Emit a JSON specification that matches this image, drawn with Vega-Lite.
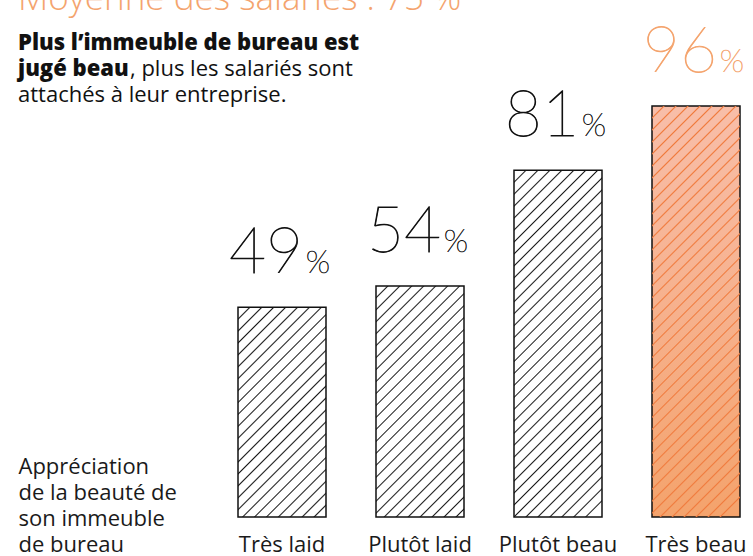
{
  "$schema": "https://vega.github.io/schema/vega-lite/v6.json",
  "width": 502,
  "height": 428,
  "autosize": {"type": "none"},
  "padding": {"left": 238, "top": 89, "right": 13, "bottom": 39},
  "background": "#ffffff",
  "config": {"view": {"stroke": null}},
  "data": {"values": [
    {"cat": "Très laid", "pct": 49},
    {"cat": "Plutôt laid", "pct": 54},
    {"cat": "Plutôt beau", "pct": 81},
    {"cat": "Très beau", "pct": 96}
  ]},
  "encoding": {
    "x": {
      "field": "cat", "type": "nominal",
      "sort": ["Très laid", "Plutôt laid", "Plutôt beau", "Très beau"],
      "scale": {"paddingInner": 0.3623, "paddingOuter": 0},
      "axis": {
        "labelAngle": 0, "ticks": false, "domain": false, "grid": false,
        "labelFont": "Open Sans", "labelFontSize": 22, "labelColor": "#1a1a1a",
        "labelBaseline": "alphabetic", "labelPadding": 34,
        "title": ["Appréciation", "de la beauté de", "son immeuble", "de bureau"],
        "titleX": -220, "titleY": -44, "titleAlign": "left", "titleAnchor": "start",
        "titleBaseline": "alphabetic", "titleFont": "Open Sans", "titleFontSize": 22,
        "titleFontWeight": "normal", "titleLineHeight": 26, "titleColor": "#1a1a1a"
      }
    },
    "y": {"field": "pct", "type": "quantitative", "scale": {"domain": [0, 100]}, "axis": null}
  },
  "layer": [
    {
      "transform": [{"filter": "datum.cat === 'Très laid'"}],
      "mark": {"type": "bar", "stroke": "#111111", "strokeWidth": 1.5, "fill": {
        "gradient": "linear", "x1": 0, "y1": 0, "x2": 0.5065, "y2": 1.2071,
        "stops": [
          {"offset": 0.035, "color": "#ffffff"}, {"offset": 0.04, "color": "#1a1a1a"}, {"offset": 0.045, "color": "#ffffff"},
          {"offset": 0.075, "color": "#ffffff"}, {"offset": 0.08, "color": "#1a1a1a"}, {"offset": 0.085, "color": "#ffffff"},
          {"offset": 0.115, "color": "#ffffff"}, {"offset": 0.12, "color": "#1a1a1a"}, {"offset": 0.125, "color": "#ffffff"},
          {"offset": 0.155, "color": "#ffffff"}, {"offset": 0.16, "color": "#1a1a1a"}, {"offset": 0.165, "color": "#ffffff"},
          {"offset": 0.195, "color": "#ffffff"}, {"offset": 0.2, "color": "#1a1a1a"}, {"offset": 0.205, "color": "#ffffff"},
          {"offset": 0.235, "color": "#ffffff"}, {"offset": 0.24, "color": "#1a1a1a"}, {"offset": 0.245, "color": "#ffffff"},
          {"offset": 0.275, "color": "#ffffff"}, {"offset": 0.28, "color": "#1a1a1a"}, {"offset": 0.285, "color": "#ffffff"},
          {"offset": 0.315, "color": "#ffffff"}, {"offset": 0.32, "color": "#1a1a1a"}, {"offset": 0.325, "color": "#ffffff"},
          {"offset": 0.355, "color": "#ffffff"}, {"offset": 0.36, "color": "#1a1a1a"}, {"offset": 0.365, "color": "#ffffff"},
          {"offset": 0.395, "color": "#ffffff"}, {"offset": 0.4, "color": "#1a1a1a"}, {"offset": 0.405, "color": "#ffffff"},
          {"offset": 0.435, "color": "#ffffff"}, {"offset": 0.44, "color": "#1a1a1a"}, {"offset": 0.445, "color": "#ffffff"},
          {"offset": 0.475, "color": "#ffffff"}, {"offset": 0.48, "color": "#1a1a1a"}, {"offset": 0.485, "color": "#ffffff"},
          {"offset": 0.515, "color": "#ffffff"}, {"offset": 0.52, "color": "#1a1a1a"}, {"offset": 0.525, "color": "#ffffff"},
          {"offset": 0.555, "color": "#ffffff"}, {"offset": 0.56, "color": "#1a1a1a"}, {"offset": 0.565, "color": "#ffffff"},
          {"offset": 0.595, "color": "#ffffff"}, {"offset": 0.6, "color": "#1a1a1a"}, {"offset": 0.605, "color": "#ffffff"},
          {"offset": 0.635, "color": "#ffffff"}, {"offset": 0.64, "color": "#1a1a1a"}, {"offset": 0.645, "color": "#ffffff"},
          {"offset": 0.675, "color": "#ffffff"}, {"offset": 0.68, "color": "#1a1a1a"}, {"offset": 0.685, "color": "#ffffff"},
          {"offset": 0.715, "color": "#ffffff"}, {"offset": 0.72, "color": "#1a1a1a"}, {"offset": 0.725, "color": "#ffffff"},
          {"offset": 0.755, "color": "#ffffff"}, {"offset": 0.76, "color": "#1a1a1a"}, {"offset": 0.765, "color": "#ffffff"},
          {"offset": 0.795, "color": "#ffffff"}, {"offset": 0.8, "color": "#1a1a1a"}, {"offset": 0.805, "color": "#ffffff"},
          {"offset": 0.835, "color": "#ffffff"}, {"offset": 0.84, "color": "#1a1a1a"}, {"offset": 0.845, "color": "#ffffff"},
          {"offset": 0.875, "color": "#ffffff"}, {"offset": 0.88, "color": "#1a1a1a"}, {"offset": 0.885, "color": "#ffffff"},
          {"offset": 0.915, "color": "#ffffff"}, {"offset": 0.92, "color": "#1a1a1a"}, {"offset": 0.925, "color": "#ffffff"},
          {"offset": 0.955, "color": "#ffffff"}, {"offset": 0.96, "color": "#1a1a1a"}, {"offset": 0.965, "color": "#ffffff"}
        ]
      }}
    },
    {
      "transform": [{"filter": "datum.cat === 'Plutôt laid'"}],
      "mark": {"type": "bar", "stroke": "#111111", "strokeWidth": 1.5, "fill": {
        "gradient": "linear", "x1": 0, "y1": 0, "x2": 0.4592, "y2": 1.2059,
        "stops": [
          {"offset": 0.033, "color": "#ffffff"}, {"offset": 0.0375, "color": "#1a1a1a"}, {"offset": 0.042, "color": "#ffffff"},
          {"offset": 0.0705, "color": "#ffffff"}, {"offset": 0.075, "color": "#1a1a1a"}, {"offset": 0.0795, "color": "#ffffff"},
          {"offset": 0.108, "color": "#ffffff"}, {"offset": 0.1125, "color": "#1a1a1a"}, {"offset": 0.117, "color": "#ffffff"},
          {"offset": 0.1455, "color": "#ffffff"}, {"offset": 0.15, "color": "#1a1a1a"}, {"offset": 0.1545, "color": "#ffffff"},
          {"offset": 0.183, "color": "#ffffff"}, {"offset": 0.1875, "color": "#1a1a1a"}, {"offset": 0.192, "color": "#ffffff"},
          {"offset": 0.2205, "color": "#ffffff"}, {"offset": 0.225, "color": "#1a1a1a"}, {"offset": 0.2295, "color": "#ffffff"},
          {"offset": 0.258, "color": "#ffffff"}, {"offset": 0.2625, "color": "#1a1a1a"}, {"offset": 0.267, "color": "#ffffff"},
          {"offset": 0.2955, "color": "#ffffff"}, {"offset": 0.3, "color": "#1a1a1a"}, {"offset": 0.3045, "color": "#ffffff"},
          {"offset": 0.333, "color": "#ffffff"}, {"offset": 0.3375, "color": "#1a1a1a"}, {"offset": 0.342, "color": "#ffffff"},
          {"offset": 0.3705, "color": "#ffffff"}, {"offset": 0.375, "color": "#1a1a1a"}, {"offset": 0.3795, "color": "#ffffff"},
          {"offset": 0.408, "color": "#ffffff"}, {"offset": 0.4125, "color": "#1a1a1a"}, {"offset": 0.417, "color": "#ffffff"},
          {"offset": 0.4455, "color": "#ffffff"}, {"offset": 0.45, "color": "#1a1a1a"}, {"offset": 0.4545, "color": "#ffffff"},
          {"offset": 0.483, "color": "#ffffff"}, {"offset": 0.4875, "color": "#1a1a1a"}, {"offset": 0.492, "color": "#ffffff"},
          {"offset": 0.5205, "color": "#ffffff"}, {"offset": 0.525, "color": "#1a1a1a"}, {"offset": 0.5295, "color": "#ffffff"},
          {"offset": 0.558, "color": "#ffffff"}, {"offset": 0.5625, "color": "#1a1a1a"}, {"offset": 0.567, "color": "#ffffff"},
          {"offset": 0.5955, "color": "#ffffff"}, {"offset": 0.6, "color": "#1a1a1a"}, {"offset": 0.6045, "color": "#ffffff"},
          {"offset": 0.633, "color": "#ffffff"}, {"offset": 0.6375, "color": "#1a1a1a"}, {"offset": 0.642, "color": "#ffffff"},
          {"offset": 0.6705, "color": "#ffffff"}, {"offset": 0.675, "color": "#1a1a1a"}, {"offset": 0.6795, "color": "#ffffff"},
          {"offset": 0.708, "color": "#ffffff"}, {"offset": 0.7125, "color": "#1a1a1a"}, {"offset": 0.717, "color": "#ffffff"},
          {"offset": 0.7455, "color": "#ffffff"}, {"offset": 0.75, "color": "#1a1a1a"}, {"offset": 0.7545, "color": "#ffffff"},
          {"offset": 0.783, "color": "#ffffff"}, {"offset": 0.7875, "color": "#1a1a1a"}, {"offset": 0.792, "color": "#ffffff"},
          {"offset": 0.8205, "color": "#ffffff"}, {"offset": 0.825, "color": "#1a1a1a"}, {"offset": 0.8295, "color": "#ffffff"},
          {"offset": 0.858, "color": "#ffffff"}, {"offset": 0.8625, "color": "#1a1a1a"}, {"offset": 0.867, "color": "#ffffff"},
          {"offset": 0.8955, "color": "#ffffff"}, {"offset": 0.9, "color": "#1a1a1a"}, {"offset": 0.9045, "color": "#ffffff"},
          {"offset": 0.933, "color": "#ffffff"}, {"offset": 0.9375, "color": "#1a1a1a"}, {"offset": 0.942, "color": "#ffffff"},
          {"offset": 0.9705, "color": "#ffffff"}, {"offset": 0.975, "color": "#1a1a1a"}, {"offset": 0.9795, "color": "#ffffff"}
        ]
      }}
    },
    {
      "transform": [{"filter": "datum.cat === 'Plutôt beau'"}],
      "mark": {"type": "bar", "stroke": "#111111", "strokeWidth": 1.5, "fill": {
        "gradient": "linear", "x1": 0, "y1": 0, "x2": 0.299, "y2": 1.1779,
        "stops": [
          {"offset": 0.0242, "color": "#ffffff"}, {"offset": 0.0275, "color": "#1a1a1a"}, {"offset": 0.0308, "color": "#ffffff"},
          {"offset": 0.0517, "color": "#ffffff"}, {"offset": 0.055, "color": "#1a1a1a"}, {"offset": 0.0583, "color": "#ffffff"},
          {"offset": 0.0792, "color": "#ffffff"}, {"offset": 0.0825, "color": "#1a1a1a"}, {"offset": 0.0858, "color": "#ffffff"},
          {"offset": 0.1067, "color": "#ffffff"}, {"offset": 0.11, "color": "#1a1a1a"}, {"offset": 0.1133, "color": "#ffffff"},
          {"offset": 0.1342, "color": "#ffffff"}, {"offset": 0.1375, "color": "#1a1a1a"}, {"offset": 0.1408, "color": "#ffffff"},
          {"offset": 0.1617, "color": "#ffffff"}, {"offset": 0.165, "color": "#1a1a1a"}, {"offset": 0.1683, "color": "#ffffff"},
          {"offset": 0.1892, "color": "#ffffff"}, {"offset": 0.1925, "color": "#1a1a1a"}, {"offset": 0.1958, "color": "#ffffff"},
          {"offset": 0.2167, "color": "#ffffff"}, {"offset": 0.22, "color": "#1a1a1a"}, {"offset": 0.2233, "color": "#ffffff"},
          {"offset": 0.2442, "color": "#ffffff"}, {"offset": 0.2475, "color": "#1a1a1a"}, {"offset": 0.2508, "color": "#ffffff"},
          {"offset": 0.2717, "color": "#ffffff"}, {"offset": 0.275, "color": "#1a1a1a"}, {"offset": 0.2783, "color": "#ffffff"},
          {"offset": 0.2992, "color": "#ffffff"}, {"offset": 0.3025, "color": "#1a1a1a"}, {"offset": 0.3058, "color": "#ffffff"},
          {"offset": 0.3267, "color": "#ffffff"}, {"offset": 0.33, "color": "#1a1a1a"}, {"offset": 0.3333, "color": "#ffffff"},
          {"offset": 0.3542, "color": "#ffffff"}, {"offset": 0.3575, "color": "#1a1a1a"}, {"offset": 0.3608, "color": "#ffffff"},
          {"offset": 0.3817, "color": "#ffffff"}, {"offset": 0.385, "color": "#1a1a1a"}, {"offset": 0.3883, "color": "#ffffff"},
          {"offset": 0.4092, "color": "#ffffff"}, {"offset": 0.4125, "color": "#1a1a1a"}, {"offset": 0.4158, "color": "#ffffff"},
          {"offset": 0.4367, "color": "#ffffff"}, {"offset": 0.44, "color": "#1a1a1a"}, {"offset": 0.4433, "color": "#ffffff"},
          {"offset": 0.4642, "color": "#ffffff"}, {"offset": 0.4675, "color": "#1a1a1a"}, {"offset": 0.4708, "color": "#ffffff"},
          {"offset": 0.4917, "color": "#ffffff"}, {"offset": 0.495, "color": "#1a1a1a"}, {"offset": 0.4983, "color": "#ffffff"},
          {"offset": 0.5192, "color": "#ffffff"}, {"offset": 0.5225, "color": "#1a1a1a"}, {"offset": 0.5258, "color": "#ffffff"},
          {"offset": 0.5467, "color": "#ffffff"}, {"offset": 0.55, "color": "#1a1a1a"}, {"offset": 0.5533, "color": "#ffffff"},
          {"offset": 0.5742, "color": "#ffffff"}, {"offset": 0.5775, "color": "#1a1a1a"}, {"offset": 0.5808, "color": "#ffffff"},
          {"offset": 0.6017, "color": "#ffffff"}, {"offset": 0.605, "color": "#1a1a1a"}, {"offset": 0.6083, "color": "#ffffff"},
          {"offset": 0.6292, "color": "#ffffff"}, {"offset": 0.6325, "color": "#1a1a1a"}, {"offset": 0.6358, "color": "#ffffff"},
          {"offset": 0.6567, "color": "#ffffff"}, {"offset": 0.66, "color": "#1a1a1a"}, {"offset": 0.6633, "color": "#ffffff"},
          {"offset": 0.6842, "color": "#ffffff"}, {"offset": 0.6875, "color": "#1a1a1a"}, {"offset": 0.6908, "color": "#ffffff"},
          {"offset": 0.7117, "color": "#ffffff"}, {"offset": 0.715, "color": "#1a1a1a"}, {"offset": 0.7183, "color": "#ffffff"},
          {"offset": 0.7392, "color": "#ffffff"}, {"offset": 0.7425, "color": "#1a1a1a"}, {"offset": 0.7458, "color": "#ffffff"},
          {"offset": 0.7667, "color": "#ffffff"}, {"offset": 0.77, "color": "#1a1a1a"}, {"offset": 0.7733, "color": "#ffffff"},
          {"offset": 0.7942, "color": "#ffffff"}, {"offset": 0.7975, "color": "#1a1a1a"}, {"offset": 0.8008, "color": "#ffffff"},
          {"offset": 0.8217, "color": "#ffffff"}, {"offset": 0.825, "color": "#1a1a1a"}, {"offset": 0.8283, "color": "#ffffff"},
          {"offset": 0.8492, "color": "#ffffff"}, {"offset": 0.8525, "color": "#1a1a1a"}, {"offset": 0.8558, "color": "#ffffff"},
          {"offset": 0.8767, "color": "#ffffff"}, {"offset": 0.88, "color": "#1a1a1a"}, {"offset": 0.8833, "color": "#ffffff"},
          {"offset": 0.9042, "color": "#ffffff"}, {"offset": 0.9075, "color": "#1a1a1a"}, {"offset": 0.9108, "color": "#ffffff"},
          {"offset": 0.9317, "color": "#ffffff"}, {"offset": 0.935, "color": "#1a1a1a"}, {"offset": 0.9383, "color": "#ffffff"},
          {"offset": 0.9592, "color": "#ffffff"}, {"offset": 0.9625, "color": "#1a1a1a"}, {"offset": 0.9658, "color": "#ffffff"}
        ]
      }}
    },
    {
      "transform": [{"filter": "datum.cat === 'Très beau'"}],
      "mark": {"type": "bar", "stroke": "#111111", "strokeWidth": 1.5, "fill": {
        "gradient": "linear", "x1": 0, "y1": 0, "x2": 0, "y2": 1,
        "stops": [
          {"offset": 0, "color": "#f8bea9"},
          {"offset": 0.5, "color": "#f6b18d"},
          {"offset": 1, "color": "#f4a36c"}
        ]
      }}
    },
    {
      "transform": [{"filter": "datum.cat === 'Très beau'"}],
      "mark": {"type": "bar", "strokeWidth": 0, "fill": {
        "gradient": "linear", "x1": 0, "y1": 0, "x2": 0.2486, "y2": 1.1609,
        "stops": [
          {"offset": 0.021, "color": "rgba(240,122,60,0)"}, {"offset": 0.024, "color": "#f07a3c"}, {"offset": 0.027, "color": "rgba(240,122,60,0)"},
          {"offset": 0.045, "color": "rgba(240,122,60,0)"}, {"offset": 0.048, "color": "#f07a3c"}, {"offset": 0.051, "color": "rgba(240,122,60,0)"},
          {"offset": 0.069, "color": "rgba(240,122,60,0)"}, {"offset": 0.072, "color": "#f07a3c"}, {"offset": 0.075, "color": "rgba(240,122,60,0)"},
          {"offset": 0.093, "color": "rgba(240,122,60,0)"}, {"offset": 0.096, "color": "#f07a3c"}, {"offset": 0.099, "color": "rgba(240,122,60,0)"},
          {"offset": 0.117, "color": "rgba(240,122,60,0)"}, {"offset": 0.12, "color": "#f07a3c"}, {"offset": 0.123, "color": "rgba(240,122,60,0)"},
          {"offset": 0.141, "color": "rgba(240,122,60,0)"}, {"offset": 0.144, "color": "#f07a3c"}, {"offset": 0.147, "color": "rgba(240,122,60,0)"},
          {"offset": 0.165, "color": "rgba(240,122,60,0)"}, {"offset": 0.168, "color": "#f07a3c"}, {"offset": 0.171, "color": "rgba(240,122,60,0)"},
          {"offset": 0.189, "color": "rgba(240,122,60,0)"}, {"offset": 0.192, "color": "#f07a3c"}, {"offset": 0.195, "color": "rgba(240,122,60,0)"},
          {"offset": 0.213, "color": "rgba(240,122,60,0)"}, {"offset": 0.216, "color": "#f07a3c"}, {"offset": 0.219, "color": "rgba(240,122,60,0)"},
          {"offset": 0.237, "color": "rgba(240,122,60,0)"}, {"offset": 0.24, "color": "#f07a3c"}, {"offset": 0.243, "color": "rgba(240,122,60,0)"},
          {"offset": 0.261, "color": "rgba(240,122,60,0)"}, {"offset": 0.264, "color": "#f07a3c"}, {"offset": 0.267, "color": "rgba(240,122,60,0)"},
          {"offset": 0.285, "color": "rgba(240,122,60,0)"}, {"offset": 0.288, "color": "#f07a3c"}, {"offset": 0.291, "color": "rgba(240,122,60,0)"},
          {"offset": 0.309, "color": "rgba(240,122,60,0)"}, {"offset": 0.312, "color": "#f07a3c"}, {"offset": 0.315, "color": "rgba(240,122,60,0)"},
          {"offset": 0.333, "color": "rgba(240,122,60,0)"}, {"offset": 0.336, "color": "#f07a3c"}, {"offset": 0.339, "color": "rgba(240,122,60,0)"},
          {"offset": 0.357, "color": "rgba(240,122,60,0)"}, {"offset": 0.36, "color": "#f07a3c"}, {"offset": 0.363, "color": "rgba(240,122,60,0)"},
          {"offset": 0.381, "color": "rgba(240,122,60,0)"}, {"offset": 0.384, "color": "#f07a3c"}, {"offset": 0.387, "color": "rgba(240,122,60,0)"},
          {"offset": 0.405, "color": "rgba(240,122,60,0)"}, {"offset": 0.408, "color": "#f07a3c"}, {"offset": 0.411, "color": "rgba(240,122,60,0)"},
          {"offset": 0.429, "color": "rgba(240,122,60,0)"}, {"offset": 0.432, "color": "#f07a3c"}, {"offset": 0.435, "color": "rgba(240,122,60,0)"},
          {"offset": 0.453, "color": "rgba(240,122,60,0)"}, {"offset": 0.456, "color": "#f07a3c"}, {"offset": 0.459, "color": "rgba(240,122,60,0)"},
          {"offset": 0.477, "color": "rgba(240,122,60,0)"}, {"offset": 0.48, "color": "#f07a3c"}, {"offset": 0.483, "color": "rgba(240,122,60,0)"},
          {"offset": 0.501, "color": "rgba(240,122,60,0)"}, {"offset": 0.504, "color": "#f07a3c"}, {"offset": 0.507, "color": "rgba(240,122,60,0)"},
          {"offset": 0.525, "color": "rgba(240,122,60,0)"}, {"offset": 0.528, "color": "#f07a3c"}, {"offset": 0.531, "color": "rgba(240,122,60,0)"},
          {"offset": 0.549, "color": "rgba(240,122,60,0)"}, {"offset": 0.552, "color": "#f07a3c"}, {"offset": 0.555, "color": "rgba(240,122,60,0)"},
          {"offset": 0.573, "color": "rgba(240,122,60,0)"}, {"offset": 0.576, "color": "#f07a3c"}, {"offset": 0.579, "color": "rgba(240,122,60,0)"},
          {"offset": 0.597, "color": "rgba(240,122,60,0)"}, {"offset": 0.6, "color": "#f07a3c"}, {"offset": 0.603, "color": "rgba(240,122,60,0)"},
          {"offset": 0.621, "color": "rgba(240,122,60,0)"}, {"offset": 0.624, "color": "#f07a3c"}, {"offset": 0.627, "color": "rgba(240,122,60,0)"},
          {"offset": 0.645, "color": "rgba(240,122,60,0)"}, {"offset": 0.648, "color": "#f07a3c"}, {"offset": 0.651, "color": "rgba(240,122,60,0)"},
          {"offset": 0.669, "color": "rgba(240,122,60,0)"}, {"offset": 0.672, "color": "#f07a3c"}, {"offset": 0.675, "color": "rgba(240,122,60,0)"},
          {"offset": 0.693, "color": "rgba(240,122,60,0)"}, {"offset": 0.696, "color": "#f07a3c"}, {"offset": 0.699, "color": "rgba(240,122,60,0)"},
          {"offset": 0.717, "color": "rgba(240,122,60,0)"}, {"offset": 0.72, "color": "#f07a3c"}, {"offset": 0.723, "color": "rgba(240,122,60,0)"},
          {"offset": 0.741, "color": "rgba(240,122,60,0)"}, {"offset": 0.744, "color": "#f07a3c"}, {"offset": 0.747, "color": "rgba(240,122,60,0)"},
          {"offset": 0.765, "color": "rgba(240,122,60,0)"}, {"offset": 0.768, "color": "#f07a3c"}, {"offset": 0.771, "color": "rgba(240,122,60,0)"},
          {"offset": 0.789, "color": "rgba(240,122,60,0)"}, {"offset": 0.792, "color": "#f07a3c"}, {"offset": 0.795, "color": "rgba(240,122,60,0)"},
          {"offset": 0.813, "color": "rgba(240,122,60,0)"}, {"offset": 0.816, "color": "#f07a3c"}, {"offset": 0.819, "color": "rgba(240,122,60,0)"},
          {"offset": 0.837, "color": "rgba(240,122,60,0)"}, {"offset": 0.84, "color": "#f07a3c"}, {"offset": 0.843, "color": "rgba(240,122,60,0)"},
          {"offset": 0.861, "color": "rgba(240,122,60,0)"}, {"offset": 0.864, "color": "#f07a3c"}, {"offset": 0.867, "color": "rgba(240,122,60,0)"},
          {"offset": 0.885, "color": "rgba(240,122,60,0)"}, {"offset": 0.888, "color": "#f07a3c"}, {"offset": 0.891, "color": "rgba(240,122,60,0)"},
          {"offset": 0.909, "color": "rgba(240,122,60,0)"}, {"offset": 0.912, "color": "#f07a3c"}, {"offset": 0.915, "color": "rgba(240,122,60,0)"},
          {"offset": 0.933, "color": "rgba(240,122,60,0)"}, {"offset": 0.936, "color": "#f07a3c"}, {"offset": 0.939, "color": "rgba(240,122,60,0)"},
          {"offset": 0.957, "color": "rgba(240,122,60,0)"}, {"offset": 0.96, "color": "#f07a3c"}, {"offset": 0.963, "color": "rgba(240,122,60,0)"}
        ]
      }}
    },
    {
      "mark": {"type": "text", "align": "center", "baseline": "alphabetic", "dx": -16, "dy": -34, "font": "Lato", "fontWeight": 200, "fontSize": 64, "strokeWidth": 0.8},
      "encoding": {
        "text": {"field": "pct", "type": "quantitative"},
        "color": {"condition": {"test": "datum.cat === 'Très beau'", "value": "#f4a46e"}, "value": "#111111"},
        "stroke": {"condition": {"test": "datum.cat === 'Très beau'", "value": "#f4a46e"}, "value": "#111111"}
      }
    },
    {
      "mark": {"type": "text", "align": "center", "baseline": "alphabetic", "dx": 36, "dy": -34, "font": "Lato", "fontWeight": 200, "fontSize": 32, "strokeWidth": 0.6},
      "encoding": {
        "text": {"value": "%"},
        "color": {"condition": {"test": "datum.cat === 'Très beau'", "value": "#f4a46e"}, "value": "#111111"},
        "stroke": {"condition": {"test": "datum.cat === 'Très beau'", "value": "#f4a46e"}, "value": "#111111"}
      }
    },
    {
      "data": {"values": [{"t": "Moyenne des salariés : 75 %"}]},
      "mark": {"type": "text", "align": "left", "baseline": "alphabetic", "font": "Open Sans", "fontWeight": 300, "fontSize": 35, "color": "#f4a46e"},
      "encoding": {"x": {"value": -220}, "y": {"value": -79}, "text": {"field": "t"}}
    },
    {
      "data": {"values": [{"t": "Plus l’immeuble de bureau est"}]},
      "mark": {"type": "text", "align": "left", "baseline": "alphabetic", "font": "Open Sans", "fontWeight": 800, "fontSize": 22, "color": "#111111"},
      "encoding": {"x": {"value": -220}, "y": {"value": -39}, "text": {"field": "t"}}
    },
    {
      "data": {"values": [{"t": "jugé beau"}]},
      "mark": {"type": "text", "align": "left", "baseline": "alphabetic", "font": "Open Sans", "fontWeight": 800, "fontSize": 22, "color": "#111111"},
      "encoding": {"x": {"value": -220}, "y": {"value": -13}, "text": {"field": "t"}}
    },
    {
      "data": {"values": [{"t": ", plus les salariés sont"}]},
      "mark": {"type": "text", "align": "left", "baseline": "alphabetic", "font": "Open Sans", "fontWeight": 400, "fontSize": 22, "color": "#111111"},
      "encoding": {"x": {"value": -108}, "y": {"value": -13}, "text": {"field": "t"}}
    },
    {
      "data": {"values": [{"t": "attachés à leur entreprise."}]},
      "mark": {"type": "text", "align": "left", "baseline": "alphabetic", "font": "Open Sans", "fontWeight": 400, "fontSize": 22, "color": "#111111"},
      "encoding": {"x": {"value": -220}, "y": {"value": 13}, "text": {"field": "t"}}
    }
  ]
}
